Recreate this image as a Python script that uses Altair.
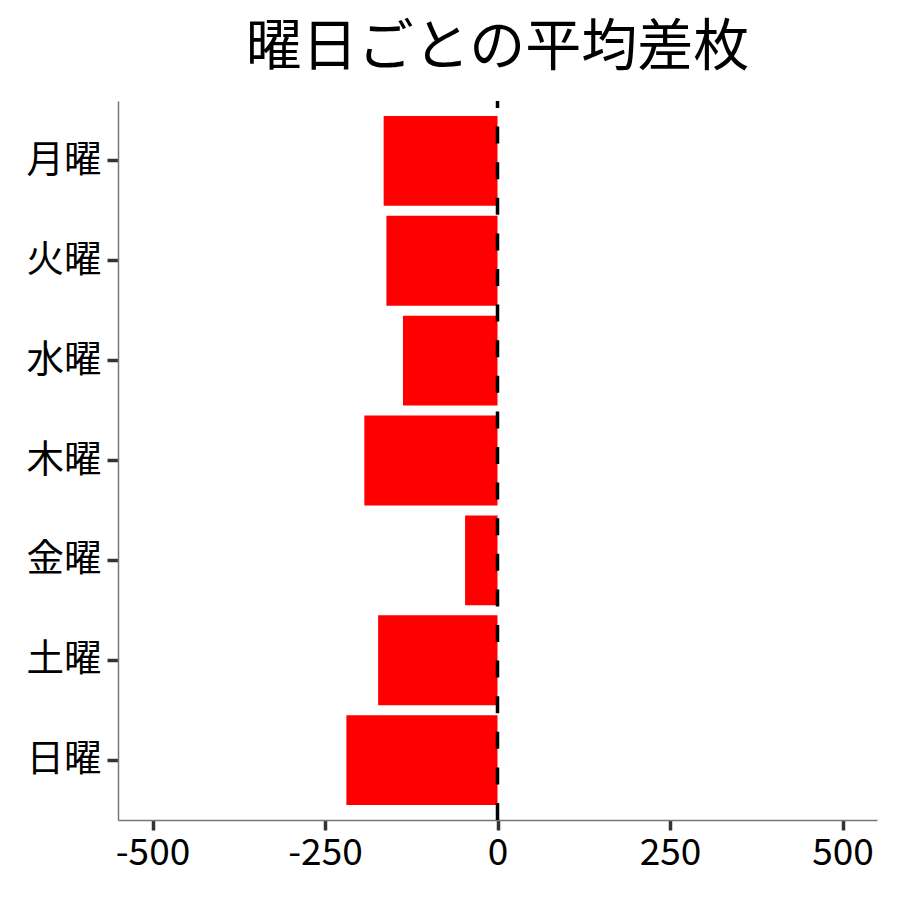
import altair as alt
import pandas as pd

days = ["月曜", "火曜", "水曜", "木曜", "金曜", "土曜", "日曜"]
values = [-165, -161, -137, -193, -47, -173, -219]
x_ticks = [-500, -250, 0, 250, 500]
title_text = "曜日ごとの平均差枚"

df = pd.DataFrame({"day": days, "value": values})
zero = pd.DataFrame({"x": [0]})

FONT = "Noto Sans CJK JP"
W, H = 759, 719

xscale = alt.Scale(domain=[-550, 550], nice=False, zero=False)

bars = alt.Chart(df).mark_bar(color="#FF0000").encode(
    x=alt.X("value:Q", scale=xscale,
            axis=alt.Axis(values=x_ticks, title=None, grid=False,
                          labelExpr="datum.value + ''",
                          domainColor="#777777", domainWidth=1.5,
                          tickColor="#333333", tickWidth=3.5, tickSize=10,
                          labelFontSize=37, labelColor="#000000", labelFont=FONT,
                          labelPadding=5, labelFlush=False)),
    y=alt.Y("day:N", sort=days,
            scale=alt.Scale(paddingInner=0.1, paddingOuter=0.15),
            axis=alt.Axis(title=None, grid=False,
                          domainColor="#777777", domainWidth=1.5,
                          tickColor="#333333", tickWidth=3.5, tickSize=11,
                          labelFontSize=37.5, labelColor="#000000", labelFont=FONT,
                          labelPadding=6)),
)

rule = alt.Chart(zero).mark_rule(color="black", strokeWidth=3.5, strokeDash=[17, 18.6]).encode(
    x=alt.X("x:Q", scale=xscale),
    y=alt.value(H),
    y2=alt.value(0),
)

chart = alt.layer(bars, rule).properties(
    width=W, height=H,
    title=alt.Title(title_text, font=FONT, fontSize=56, fontWeight="normal",
                    color="#000000", anchor="middle", offset=22),
    autosize=alt.AutoSizeParams(type="none"),
    padding={"left": 110, "top": 93, "right": 7, "bottom": 64},
).configure_view(stroke=None)

chart.save("out.html", embed_options={"renderer": "svg", "actions": False})
